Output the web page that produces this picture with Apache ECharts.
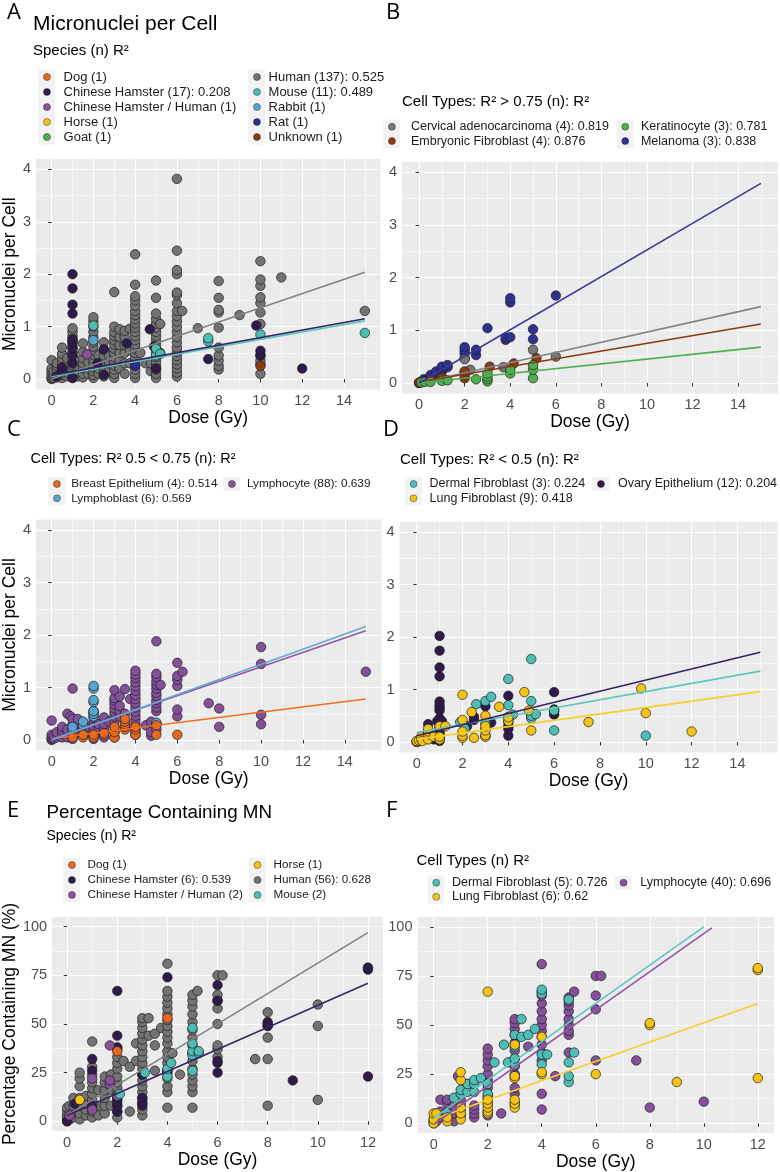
<!DOCTYPE html>
<html><head><meta charset="utf-8">
<script src="https://cdn.jsdelivr.net/npm/echarts/dist/echarts.min.js"></script>
<style>html,body{margin:0;padding:0;background:#fff}#c{width:780px;height:1172px}</style>
</head><body><div id="c"></div>
<script>
// ---------- tick values ----------
const doseTicksMN = [0, 2, 4, 6, 8, 10, 12, 14];
const doseMinorMN = [1, 3, 5, 7, 9, 11, 13, 15];
const mnTicks = [0, 1, 2, 3, 4];
const mnMinor = [0.5, 1.5, 2.5, 3.5];
const doseTicksPct = [0, 2, 4, 6, 8, 10, 12];
const doseMinorPct = [1, 3, 5, 7, 9, 11];
const pctTicks = [0, 25, 50, 75, 100];
const pctMinor = [12.5, 37.5, 62.5, 87.5];

// ---------- legend labels ----------
const A_labels = ['Dog (1)', 'Chinese Hamster (17): 0.208', 'Chinese Hamster / Human (1)', 'Horse (1)', 'Goat (1)',
  'Human (137): 0.525', 'Mouse (11): 0.489', 'Rabbit (1)', 'Rat (1)', 'Unknown (1)'];
const B_labels = ['Cervical adenocarcinoma (4): 0.819', 'Embryonic Fibroblast (4): 0.876', 'Keratinocyte (3): 0.781', 'Melanoma (3): 0.838'];
const C_labels = ['Breast Epithelium (4): 0.514', 'Lymphoblast (6): 0.569', 'Lymphocyte (88): 0.639'];
const D_labels = ['Dermal Fibroblast (3): 0.224', 'Lung Fibroblast (9): 0.418', 'Ovary Epithelium (12): 0.204'];
const E_labels = ['Dog (1)', 'Chinese Hamster (6): 0.539', 'Chinese Hamster / Human (2)', 'Horse (1)', 'Human (56): 0.628', 'Mouse (2)'];
const F_labels = ['Dermal Fibroblast (5): 0.726', 'Lung Fibroblast (6): 0.62', 'Lymphocyte (40): 0.696'];

// ---------- panel A: micronuclei per cell by species  [dose, [values]] ----------
const A_human = [
  [0, [0, 0.02, 0.05, 0.1, 0.15, 0.2, 0.36]], [0.1, [0.02, 0.08, 0.15]], [0.25, [0.03, 0.1, 0.18, 0.25, 0.3]],
  [0.5, [0.02, 0.08, 0.15, 0.22, 0.3, 0.4, 0.48, 0.6]], [0.75, [0.05, 0.12, 0.2, 0.3, 0.4]],
  [1, [0.02, 0.1, 0.18, 0.26, 0.34, 0.42, 0.5, 0.58, 0.66, 0.74, 0.82, 0.9, 0.97]], [1.25, [0.05, 0.15, 0.25, 0.35]],
  [1.5, [0.03, 0.1, 0.2, 0.3, 0.4, 0.52, 0.68]], [1.75, [0.1, 0.2, 0.32]],
  [2, [0.02, 0.08, 0.15, 0.22, 0.3, 0.38, 0.46, 0.54, 0.62, 0.7, 0.8, 0.9, 1.0, 1.1, 1.18]], [2.25, [0.1, 0.2, 0.3, 0.45]],
  [2.5, [0.05, 0.15, 0.25, 0.35, 0.45, 0.55, 0.7]], [2.75, [0.15, 0.3, 0.45]],
  [3, [0.02, 0.1, 0.18, 0.26, 0.34, 0.42, 0.5, 0.58, 0.66, 0.74, 0.82, 0.9, 1.0, 1.66]],
  [3.25, [0.2, 0.35, 0.5, 0.65, 0.8, 0.95]], [3.5, [0.1, 0.3, 0.5, 0.65, 0.8, 0.92]], [3.75, [0.3, 0.55, 0.96]],
  [4, [0.02, 0.1, 0.18, 0.26, 0.34, 0.42, 0.5, 0.58, 0.66, 0.74, 0.82, 0.9, 0.98, 1.06, 1.14, 1.22, 1.3, 1.4, 1.5, 1.58, 1.8, 2.38]],
  [4.25, [0.5]], [4.5, [0.3]], [4.75, [0.15, 0.3]],
  [5, [0.02, 0.1, 0.18, 0.26, 0.34, 0.42, 0.5, 0.58, 0.66, 0.74, 0.82, 0.9, 0.98, 1.06, 1.15, 1.25, 1.55, 1.88]],
  [5.2, [0.5, 1.05]],
  [6, [0.05, 0.12, 0.2, 0.28, 0.36, 0.44, 0.52, 0.6, 0.7, 0.8, 0.9, 1.0, 1.1, 1.2, 1.3, 1.45, 1.6, 1.65, 2.0, 2.08, 2.45, 3.82]],
  [6.25, [1.3]], [7, [0.97]], [8, [0.18, 0.25, 0.35, 0.45, 0.6, 0.98, 1.27, 1.32, 1.55, 1.87]], [9, [1.22]],
  [10, [0.1, 0.28, 0.35, 0.45, 1.05, 1.27, 1.45, 1.56, 1.78, 1.9, 2.25]], [11, [1.94]], [15, [1.3]]
];
const A_chHam = [[0.25, [0.05]], [0.5, [0.15, 0.22]], [1, [0.02, 0.3, 0.45, 0.6, 0.7, 0.76, 1.25, 1.42, 1.73, 2.0]],
  [2.2, [0.3]], [2.5, [0.08, 0.57]], [3.6, [0.68]], [4.7, [0.95]], [4.9, [0.62]], [5, [0.2]], [7.5, [0.38]],
  [9.8, [1.02]], [10, [0.45, 0.54]], [12, [0.2]]];
const A_mouse = [[2, [1.02]], [5, [0.45, 0.58]], [5.2, [0.48]], [7.5, [0.72, 0.78]], [10, [0.85]], [15, [0.88]]];
const A_rabbit = [[2, [0.74]]];
const A_rat = [[4, [0.25]]];
const A_unknown = [[10, [0.25]]];
const A_chHamHuman = [[1.7, [0.47]]];
const A_dog = [[4, [0.5]]];
const A_horse = [[1, [0.5]]];
const A_goat = [[3, [0.34]]];
const A_fitHuman = [[0, 0.0], [15, 2.04]];
const A_fitChHam = [[0, 0.07], [15, 1.15]];
const A_fitMouse = [[0, 0.05], [15, 1.11]];

// ---------- panel B ----------
const B_melanoma = [[0, [0]], [0.2, [0.07]], [0.25, [0.04]], [0.5, [0.12, 0.15]], [0.75, [0.18, 0.22]], [1, [0.22, 0.25, 0.31]],
  [1.25, [0.3, 0.34]], [2, [0.47, 0.56, 0.62, 0.68]], [2.5, [0.53, 0.63]], [3, [1.04]], [3.8, [0.82, 0.86]],
  [4, [0.87, 1.53, 1.61]], [5, [0.83, 1.02]], [6, [1.66]]];
const B_cervical = [[0, [0]], [0.5, [0.05]], [1, [0.1]], [2, [0.2, 0.45]], [2.25, [0.25]], [3.7, [0.3]], [5, [0.63]], [6, [0.5]]];
const B_embryonic = [[0, [0.01]], [0.5, [0.06]], [1, [0.1]], [2, [0.09, 0.15, 0.22]], [3.1, [0.31]], [4.15, [0.37]], [5.15, [0.47]]];
const B_kerat = [[0.1, [0.01]], [0.25, [0.02]], [0.5, [0.02]], [1, [0.04]], [1.25, [0.05]], [2.5, [0.07]],
  [3, [0.03, 0.07, 0.12, 0.18]], [4, [0.18, 0.25]], [5, [0.09, 0.25, 0.34]]];
const B_fitCervical = [[0, 0.0], [15, 1.45]];
const B_fitEmbryonic = [[0, 0.02], [15, 1.12]];
const B_fitKerat = [[0, 0.0], [15, 0.68]];
const B_fitMelanoma = [[0, 0.0], [15, 3.79]];

// ---------- panel C ----------
const C_lymphocyte = [
  [0, [0, 0.02, 0.05, 0.1, 0.37]], [0.1, [0.03, 0.08]], [0.25, [0.05, 0.1, 0.15]], [0.5, [0.05, 0.12, 0.18, 0.25]],
  [0.75, [0.05, 0.15, 0.2, 0.5]], [0.9, [0.45]], [1, [0.02, 0.1, 0.18, 0.3, 0.4, 0.98]], [1.25, [0.15, 0.25, 0.4]],
  [1.5, [0.08, 0.2]], [1.75, [0.15, 0.25]], [2, [0.02, 0.1, 0.18, 0.26, 0.34, 0.42, 0.5, 0.55]], [2.25, [0.2, 0.3]],
  [2.5, [0.05, 0.2, 0.3, 0.43]], [2.75, [0.35]], [3, [0.05, 0.15, 0.25, 0.35, 0.45, 0.52, 0.6, 0.68, 0.75, 0.8, 0.95]],
  [3.25, [0.45, 0.55, 0.65, 0.83]], [3.5, [0.5, 0.97]], [3.75, [0.78]],
  [4, [0.1, 0.2, 0.3, 0.38, 0.46, 0.54, 0.62, 0.7, 0.78, 0.86, 0.94, 1.02, 1.1, 1.18, 1.25, 1.32]],
  [4.5, [0.28]], [4.75, [0.08, 0.15, 0.35]],
  [5, [0.2, 0.3, 0.55, 0.62, 0.7, 0.76, 0.84, 0.9, 0.98, 1.05, 1.12, 1.2, 1.26, 1.88]], [5.2, [1.05]],
  [6, [0.45, 0.58, 1.03, 1.15, 1.22, 1.47]], [6.25, [1.3]], [7.5, [0.7]], [8, [0.25, 0.6]], [10, [0.3, 0.48, 1.45, 1.77]], [15, [1.3]]
];
const C_lymphoblast = [[1, [0.2, 0.25]], [1.5, [0.28, 0.35]], [2, [0.45, 0.5, 0.55, 0.72, 0.76, 0.98, 1.03]], [4, [0.15]], [5, [0.3, 0.33]]];
const C_breast = [[1, [0.05]], [1.5, [0.05, 0.1]], [2, [0.05, 0.1]], [2.5, [0.1, 0.13]], [3, [0.05, 0.15, 0.25]],
  [3.5, [0.2, 0.25, 0.3, 0.35, 0.4]], [4, [0.1, 0.2, 0.25]], [5, [0.1, 0.28]], [6, [0.1]]];
const C_fitBreast = [[0, 0.03], [15, 0.78]];
const C_fitLymphoblast = [[0, 0.0], [15, 2.16]];
const C_fitLymphocyte = [[0, 0.02], [15, 2.08]];

// ---------- panel D ----------
const D_ovary = [[0, [0]], [0.1, [0.02]], [0.25, [0.05, 0.08]], [0.5, [0.1, 0.34]], [0.75, [0.05]],
  [1, [0.02, 0.08, 0.15, 0.2, 0.28, 0.35, 0.4, 0.45, 0.6, 0.65, 0.7, 0.77, 1.25, 1.42, 1.74, 2.02]],
  [0.9, [0.4]], [1.1, [0.4]], [2.2, [0.3]], [2.5, [0.42, 0.48]], [3, [0.12, 0.68]], [3.25, [0.37]],
  [4, [0.12, 0.25, 0.3, 0.38, 0.88]], [5, [0.5]], [6, [0.52, 0.58, 0.62, 0.95]]];
const D_dermal = [[0.1, [0.02]], [0.25, [0.05]], [0.5, [0.08]], [1, [0.1]], [1.9, [0.38]], [2.1, [0.25]], [2.6, [0.72]],
  [3, [0.25, 0.35, 0.78]], [3.25, [0.86]], [4, [0.48, 0.7, 1.2]], [4.2, [0.52]], [5, [0.45, 0.5, 0.78, 1.58]],
  [5.2, [0.53]], [6, [0.22, 0.6]], [10, [0.12]]];
const D_lung = [[0, [0, 0.02]], [0.1, [0.03]], [0.2, [0.05, 0.1]], [0.25, [0.02]], [0.5, [0.05, 0.15, 0.2, 0.25]], [0.75, [0.1]],
  [1, [0.05, 0.1, 0.3]], [1.25, [0.3]], [2, [0.08, 0.12, 0.2, 0.42, 0.9]], [2.4, [0.57]], [2.5, [0.08]],
  [3, [0.1, 0.13, 0.22, 0.3, 0.5]], [3.6, [0.67]], [4, [0.4, 0.47]], [4.7, [0.95]], [4.9, [0.6]], [5, [0.22]],
  [7.5, [0.38]], [9.8, [1.02]], [10, [0.55]], [12, [0.2]]];
const D_fitDermal = [[0, 0.18], [15, 1.35]];
const D_fitLung = [[0, 0.05], [15, 0.96]];
const D_fitOvary = [[0, 0.12], [15, 1.71]];

// ---------- panel E: percentage containing MN by species ----------
const E_human = [
  [0, [0, 1, 2, 3, 5, 7]], [0.1, [1, 4, 8]], [0.25, [2, 5, 8, 12]], [0.5, [1, 4, 8, 12, 18, 22, 25]], [0.75, [3, 6, 9, 13]],
  [1, [2, 5, 8, 11, 14, 17, 20, 24, 28, 41]], [1.25, [3, 8, 16]], [1.5, [4, 8, 12, 16, 20, 23]], [1.75, [8, 16, 24]],
  [2, [2, 5, 8, 11, 14, 17, 20, 23, 27, 30, 33, 37]], [2.25, [31]], [2.5, [5, 28]], [2.75, [31, 40]],
  [3, [3, 6, 9, 12, 15, 18, 21, 24, 27, 30, 33, 36, 39, 42, 45, 48, 51, 53]], [3.25, [44, 53]], [3.5, [26, 39, 45]], [3.75, [48]],
  [4, [7, 15, 18, 22, 26, 30, 33, 36, 40, 43, 46, 49, 52, 55, 58, 61, 64, 67, 81]], [4.2, [35]], [4.5, [24]],
  [5, [7, 15, 18, 21, 24, 27, 31, 35, 39, 43, 47, 51, 55, 59, 62, 65]], [5.2, [67]],
  [6, [33, 37, 39, 50, 58, 62, 65, 75]], [6.2, [75]], [7.5, [32]], [8, [8, 32, 43, 49, 56]], [10, [11, 49, 60]]
];
const E_chHam = [[0, [0]], [0.3, [9]], [1, [8, 26, 32]], [2, [5, 8, 10, 12, 38, 44, 67]], [3, [8, 10, 12, 24]], [4, [25, 26, 74]],
  [6, [25, 30, 31, 62, 70]], [8, [49, 50, 51]], [9, [21]], [12, [23, 78, 79]]];
const E_chHamHuman = [[0.1, [3]], [1, [6, 22]], [1.7, [19, 21, 39]], [2, [13]]];
const E_mouse = [[2.1, [14]], [3.1, [25]], [4, [23, 27]], [4.15, [30]], [5, [26, 34, 36, 40, 48]], [5.25, [35, 36]]];
const E_dog = [[2, [36]], [4, [53]]];
const E_horse = [[0.5, [11]]];
const E_fitChHam = [[0, 3], [12, 71]];
const E_fitHuman = [[0, 3], [12, 97]];

// ---------- panel F ----------
const F_lymphocyte = [
  [0, [0, 1, 2]], [0.1, [1, 3]], [0.25, [3, 6, 12]], [0.5, [2, 6, 10, 12]], [0.75, [1, 5, 9]], [0.9, [24]],
  [1, [4, 7, 10, 12, 15]], [1.25, [20]], [1.5, [3, 5, 7, 9]], [2, [4, 6, 10, 14, 18, 22, 25, 29, 32, 35, 38]], [2.5, [5]],
  [3, [10, 15, 18, 25, 29, 33, 37, 41, 45, 48, 51, 53]], [3.5, [39]],
  [4, [7, 15, 32, 36, 40, 44, 47, 50, 53, 57, 61, 65, 67, 81]], [4.5, [24]],
  [5, [36, 45, 47, 50, 53, 57, 60, 62, 64]], [5.2, [67]], [6, [32, 58, 65, 75]], [6.2, [75]], [7.5, [32]], [8, [8]], [10, [11]]
];
const F_dermal = [[0.5, [5]], [0.75, [13]], [1, [15, 17]], [1.25, [16, 20]], [1.5, [16, 20, 22]], [1.75, [23]], [2, [13, 15, 20]],
  [2.25, [31]], [2.6, [40]], [2.75, [31]], [3, [30, 33, 39, 45]], [3.25, [44, 53]], [3.5, [45]], [3.75, [48]],
  [4, [30, 35, 66, 68]], [4.2, [35]], [5, [21, 24, 31, 63]], [5.2, [36]]];
const F_lung = [[0, [0, 2, 5]], [0.1, [5]], [0.5, [1, 3]], [1, [2, 5, 8, 22, 26]], [2, [5, 6, 8, 10, 12, 67]],
  [3, [8, 10, 12, 23, 24, 40]], [4, [25, 26, 44]], [6, [25]], [8, [50, 51]], [9, [21]], [12, [23, 78, 79]]];
const F_fitDermal = [[0, 2.6], [10, 100]];
const F_fitLung = [[0, 2], [12, 61]];
const F_fitLymphocyte = [[0.05, 0], [10.3, 99.5]];

// ---------- styles ----------
const FONT = '"Liberation Sans", Arial, Helvetica, sans-serif';
const COL = {
  dog: '#E8681F', chHam: '#2F1A4C', chHamHuman: '#8C4F9A', horse: '#F4C316', goat: '#4CAF50', human: '#737373',
  mouse: '#4DBDB5', rabbit: '#56A5D0', rat: '#2A2E8A', unknown: '#8B3A12', cervical: '#777777', embryonic: '#8B3A12',
  kerat: '#4CAF50', melanoma: '#2E3191', breast: '#E8681F', lymphoblast: '#56A5D0', lymphocyte: '#85509A',
  dermal: '#4DBDB5', lung: '#F4C316', ovary: '#2F1A4C'
};
const LCOL = {
  human: '#838383', chHam: '#3A2563', mouse: '#5CC6BF', cervical: '#858585', embryonic: '#8B3A12', kerat: '#4CAF50',
  melanoma: '#3A3A98', breast: '#EE6F22', lymphoblast: '#62AACF', lymphocyte: '#9258A6', dermal: '#5CC6BF',
  lung: '#F6CE2E', ovary: '#3A2260'
};

function cols(arr) { const out = []; arr.forEach(([x, ys]) => ys.forEach(y => out.push([x, y]))); return out; }

const MN = { xmin: -0.75, xmax: 15.75, ymin: -0.2, ymax: 4.2, xt: doseTicksMN, xm: doseMinorMN, yt: mnTicks, ym: mnMinor };
const PCT = { xmin: -0.6, xmax: 12.6, ymin: -5, ymax: 105, xt: doseTicksPct, xm: doseMinorPct, yt: pctTicks, ym: pctMinor };

const panels = [
  { grid: { left: 34, top: 159, width: 346.5, height: 230.5 }, sc: MN, yname: 'Micronuclei per Cell', yGap: 12.5,
    pts: [['dog', A_labels[0], A_dog], ['horse', A_labels[3], A_horse], ['goat', A_labels[4], A_goat],
      ['human', A_labels[5], A_human], ['chHam', A_labels[1], A_chHam], ['mouse', A_labels[6], A_mouse],
      ['rabbit', A_labels[7], A_rabbit], ['rat', A_labels[8], A_rat], ['unknown', A_labels[9], A_unknown],
      ['chHamHuman', A_labels[2], A_chHamHuman]],
    fits: [['human', A_fitHuman], ['mouse', A_fitMouse], ['chHam', A_fitChHam]] },
  { grid: { left: 402, top: 161.8, width: 376, height: 231.7 }, sc: MN, yname: '',
    pts: [['melanoma', B_labels[3], B_melanoma], ['cervical', B_labels[0], B_cervical], ['embryonic', B_labels[1], B_embryonic],
      ['kerat', B_labels[2], B_kerat]],
    fits: [['cervical', B_fitCervical], ['embryonic', B_fitEmbryonic], ['kerat', B_fitKerat], ['melanoma', B_fitMelanoma]] },
  { grid: { left: 32, top: 519.5, width: 349.5, height: 231 }, sc: MN, yname: 'Micronuclei per Cell', yGap: 10.5,
    pts: [['lymphocyte', C_labels[2], C_lymphocyte], ['lymphoblast', C_labels[1], C_lymphoblast], ['breast', C_labels[0], C_breast]],
    fits: [['breast', C_fitBreast], ['lymphocyte', C_fitLymphocyte], ['lymphoblast', C_fitLymphoblast]] },
  { grid: { left: 399.5, top: 521.5, width: 378, height: 231 }, sc: MN, yname: '',
    pts: [['ovary', D_labels[2], D_ovary], ['dermal', D_labels[0], D_dermal], ['lung', D_labels[1], D_lung]],
    fits: [['lung', D_fitLung], ['dermal', D_fitDermal], ['ovary', D_fitOvary]] },
  { grid: { left: 44.5, top: 917, width: 338.5, height: 214 }, sc: PCT, yname: 'Percentage Containing MN (%)', yGap: 23.5,
    pts: [['human', E_labels[4], E_human], ['chHam', E_labels[1], E_chHam], ['chHamHuman', E_labels[2], E_chHamHuman],
      ['mouse', E_labels[5], E_mouse], ['dog', E_labels[0], E_dog], ['horse', E_labels[3], E_horse]],
    fits: [['human', E_fitHuman], ['chHam', E_fitChHam]] },
  { grid: { left: 417.5, top: 917, width: 356.5, height: 218 }, sc: PCT, yname: '',
    pts: [['lymphocyte', F_labels[2], F_lymphocyte], ['dermal', F_labels[0], F_dermal], ['lung', F_labels[1], F_lung]],
    fits: [['lung', F_fitLung], ['lymphocyte', F_fitLymphocyte], ['dermal', F_fitDermal]] }
];

const grids = [], xAxes = [], yAxes = [], series = [];
panels.forEach((p, i) => {
  grids.push(Object.assign({ show: true, backgroundColor: '#EBEBEB', borderWidth: 0, containLabel: false }, p.grid));
  const tickStyle = { show: true, length: 3.5, lineStyle: { color: '#333333', width: 1 } };
  const lab = { color: '#4D4D4D', fontSize: 14.5, fontFamily: FONT };
  xAxes.push({ gridIndex: i, type: 'value', min: p.sc.xmin, max: p.sc.xmax,
    axisLine: { show: false }, axisTick: Object.assign({ customValues: p.sc.xt }, tickStyle),
    axisLabel: Object.assign({ customValues: p.sc.xt, margin: 4 }, lab),
    splitLine: { show: true, lineStyle: { color: '#FFFFFF', width: 1.1 } },
    name: 'Dose (Gy)', nameLocation: 'middle', nameGap: 19.5,
    nameTextStyle: { color: '#000', fontSize: 17.5, fontFamily: FONT } });
  yAxes.push({ gridIndex: i, type: 'value', min: p.sc.ymin, max: p.sc.ymax,
    axisLine: { show: false }, axisTick: Object.assign({ customValues: p.sc.yt }, tickStyle),
    axisLabel: Object.assign({ customValues: p.sc.yt, margin: 5 }, lab),
    splitLine: { show: true, lineStyle: { color: '#FFFFFF', width: 1.1 } },
    name: p.yname, nameLocation: 'middle', nameGap: p.yGap || 10,
    nameTextStyle: { color: '#000', fontSize: 17.5, fontFamily: FONT } });
  // minor grid lines
  series.push({ type: 'line', data: [], xAxisIndex: i, yAxisIndex: i, z: 1, silent: true, animation: false,
    markLine: { silent: true, z: 1, animation: false, symbol: ['none', 'none'], label: { show: false },
      lineStyle: { color: '#FFFFFF', width: 0.55, type: 'solid' }, emphasis: { disabled: true },
      data: p.sc.xm.map(v => ({ xAxis: v })).concat(p.sc.ym.map(v => ({ yAxis: v }))) } });
  p.pts.forEach(([key, name, arr]) => {
    series.push({ type: 'scatter', name: name, data: cols(arr), xAxisIndex: i, yAxisIndex: i, z: 2,
      symbol: 'circle', symbolSize: 9.5, silent: true, animation: false,
      itemStyle: { color: COL[key], borderColor: '#1E1E1E', borderWidth: 0.7, opacity: 1 } });
  });
  p.fits.forEach(([key, arr]) => {
    series.push({ type: 'line', name: key + ' fit ' + i, data: arr, xAxisIndex: i, yAxisIndex: i, z: 3,
      showSymbol: false, symbol: 'none', silent: true, animation: false,
      lineStyle: { color: LCOL[key], width: 1.6 }, itemStyle: { color: LCOL[key] } });
  });
});

// legends: [labels, iconCenterX, textX, top, pitch, fontSize]
const ICON = 7;
function leg(names, cx, tx, top, pitch, fs) {
  const w = 2 * (tx - cx - 5);
  return { orient: 'vertical', left: cx - ICON / 2, top: top, padding: 0, itemGap: 0, itemWidth: w, itemHeight: ICON,
    icon: 'circle', selectedMode: false, data: names,
    itemStyle: { borderWidth: 0.5, borderColor: '#333' },
    textStyle: { fontSize: fs, color: '#1A1A1A', fontFamily: FONT, lineHeight: pitch } };
}
const legendSpecs = [
  [A_labels.slice(0, 5), 46.7, 63.3, 69.5, 15, 13], [A_labels.slice(5), 256.7, 268.3, 69.5, 15, 13],
  [B_labels.slice(0, 2), 391.7, 410.7, 119.5, 14.4, 12.5], [B_labels.slice(2), 625, 640.7, 119.5, 14.4, 12.5],
  [C_labels.slice(0, 2), 56.7, 71, 476.8, 14.3, 11.8], [C_labels.slice(2), 231.7, 246.7, 476.8, 14.3, 11.8],
  [D_labels.slice(0, 2), 413.3, 429.3, 476.8, 14.3, 12.5], [D_labels.slice(2), 600.7, 617.7, 476.8, 14.3, 12.5],
  [E_labels.slice(0, 3), 71.7, 87.3, 857.5, 15, 11.7], [E_labels.slice(3), 257.3, 273.3, 857.5, 15, 11.7],
  [F_labels.slice(0, 2), 436, 451.7, 875.7, 14, 12.5], [F_labels.slice(2), 623.3, 640, 875.7, 14, 12.5]
];
const legends = legendSpecs.map(s => leg(s[0], s[1], s[2], s[3], s[4], s[5]));

// graphic: key backgrounds and texts
const elements = [];
legendSpecs.forEach(s => {
  elements.push({ type: 'rect', silent: true, z: 0,
    shape: { x: s[1] - 8.5, y: s[3], width: 17, height: s[0].length * s[4] }, style: { fill: '#F2F2F2' } });
});
function txt(t, x, y, size, family) {
  elements.push({ type: 'text', x: x, y: y, silent: true, z: 10,
    style: { text: t, fontSize: size, fontFamily: family || FONT, fill: '#000', align: 'left', verticalAlign: 'middle' } });
}
const LETTER = '"Open Sans", sans-serif';
txt('A', 7, 13, 22, LETTER);
txt('B', 386, 13, 22, LETTER);
txt('C', 7, 430, 22, LETTER);
txt('D', 383, 430, 22, LETTER);
txt('E', 7, 811, 22, LETTER);
txt('F', 386, 811, 22, LETTER);
txt('Micronuclei per Cell', 33, 24, 21);
txt('Species (n) R²', 33, 51, 15);
txt('Cell Types: R² > 0.75 (n): R²', 402, 101.5, 15);
txt('Cell Types: R² 0.5 < 0.75 (n): R²', 30.5, 459, 14.5);
txt('Cell Types: R² < 0.5 (n): R²', 400, 460, 15);
txt('Percentage Containing MN', 46.5, 812.5, 18.8);
txt('Species (n) R²', 46.5, 836.5, 14);
txt('Cell Types (n) R²', 416.5, 860.5, 15);

const chart = echarts.init(document.getElementById('c'), null, { renderer: 'canvas' });
chart.setOption({
  animation: false,
  backgroundColor: '#FFFFFF',
  textStyle: { fontFamily: FONT },
  grid: grids, xAxis: xAxes, yAxis: yAxes, legend: legends, series: series,
  graphic: { elements: elements }
});
</script></body></html>
